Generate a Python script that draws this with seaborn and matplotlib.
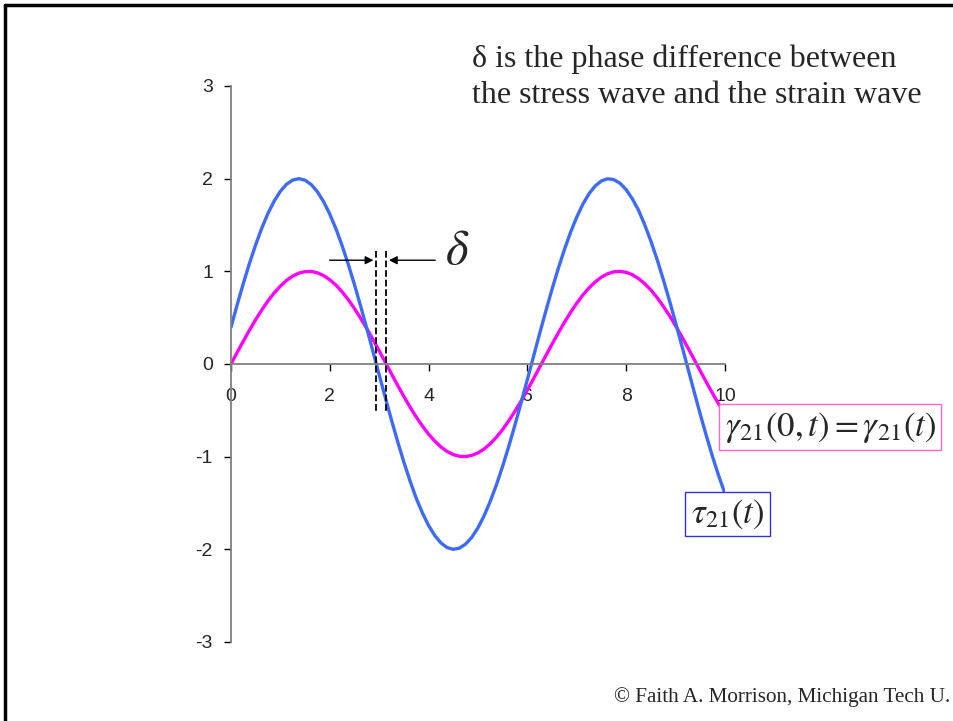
import matplotlib
matplotlib.use("Agg")
import matplotlib.pyplot as plt
from matplotlib.lines import Line2D
import seaborn as sns
import pandas as pd

# значения (шаг по t = 0.125)
t = [i * 0.125 for i in range(81)]
strain = [0.000, 0.125, 0.247, 0.366, 0.479, 0.585, 0.682, 0.768, 0.841, 0.902,
          0.949, 0.981, 0.997, 0.999, 0.984, 0.954, 0.909, 0.851, 0.778, 0.694,
          0.598, 0.493, 0.382, 0.264, 0.141, 0.017, -0.108, -0.231, -0.351, -0.465,
          -0.572, -0.670, -0.757, -0.832, -0.895, -0.944, -0.978, -0.996, -0.999, -0.986,
          -0.959, -0.917, -0.859, -0.789, -0.706, -0.612, -0.508, -0.397, -0.279, -0.158,
          -0.033, 0.092, 0.215, 0.335, 0.450, 0.558, 0.657, 0.746, 0.823, 0.887,
          0.938, 0.974, 0.995, 1.000, 0.989, 0.964, 0.921, 0.867, 0.798, 0.717,
          0.624, 0.523, 0.412, 0.295, 0.174, 0.050, -0.075, -0.199, -0.319, -0.435,
          -0.544]
stress = [0.397, 0.639, 0.870, 1.088, 1.288, 1.469, 1.627, 1.759, 1.864, 1.940,
          1.985, 2.000, 1.983, 1.936, 1.858, 1.751, 1.617, 1.458, 1.276, 1.074,
          0.855, 0.623, 0.381, 0.133, -0.117, -0.365, -0.607, -0.840, -1.060, -1.263,
          -1.449, -1.607, -1.743, -1.851, -1.931, -1.981, -2.000, -1.987, -1.943, -1.870,
          -1.767, -1.636, -1.479, -1.301, -1.101, -0.885, -0.655, -0.413, -0.166, 0.084,
          0.333, 0.575, 0.810, 1.031, 1.236, 1.423, 1.587, 1.727, 1.840, 1.923,
          1.976, 1.999, 1.989, 1.951, 1.881, 1.782, 1.659, 1.502, 1.326, 1.129,
          0.913, 0.685, 0.446, 0.199, -0.049, -0.299, -0.544, -0.779, -1.003, -1.211,
          -1.400]
x_ticks = [0, 2, 4, 6, 8, 10]
y_ticks = [-3, -2, -1, 0, 1, 2, 3]
delta_lines = [2.94, 3.14]
title_lines = ["\u03b4 is the phase difference between",
               "the stress wave and the strain wave"]

df = pd.DataFrame({"t": t, "strain": strain, "stress": stress})

sns.set_style("ticks")
plt.rcParams["font.family"] = ["Liberation Sans", "DejaVu Sans"]
plt.rcParams["mathtext.fontset"] = "stix"
plt.rcParams["axes.unicode_minus"] = False

fig = plt.figure(figsize=(9.54, 7.21), dpi=100)
ax = fig.add_axes([231 / 954, 1 - 642 / 721, 494 / 954, 556 / 721])

sns.lineplot(data=df, x="t", y="strain", ax=ax, color="#FF00FF", lw=2.4)
sns.lineplot(data=df, x="t", y="stress", ax=ax, color="#3D6BF5", lw=2.4)

ax.set_xlim(0, 10)
ax.set_ylim(-3, 3)
ax.set_xticks(x_ticks)
ax.set_yticks(y_ticks)
ax.set_xlabel("")
ax.set_ylabel("")
for s in ["top", "right"]:
    ax.spines[s].set_visible(False)
ax.spines["bottom"].set_position(("data", 0))
for s in ["left", "bottom"]:
    ax.spines[s].set_color("#808080")
    ax.spines[s].set_linewidth(1.3)
ax.tick_params(axis="both", direction="out", length=5, width=1, color="black",
               labelsize=14)
ax.tick_params(axis="x", pad=12)
ax.tick_params(axis="y", pad=8)

# дельта: пунктир и стрелки
for xd in delta_lines:
    ax.plot([xd, xd], [1.22, -0.52], ls="--", color="black", lw=1.3, clip_on=False)
ax.annotate("", xy=(delta_lines[0], 1.12), xytext=(1.94, 1.12),
            arrowprops=dict(arrowstyle="-|>", color="black", lw=1, mutation_scale=12))
ax.annotate("", xy=(delta_lines[1], 1.12), xytext=(4.19, 1.12),
            arrowprops=dict(arrowstyle="-|>", color="black", lw=1, mutation_scale=12))
ax.text(4.57, 1.215, r"$\delta$", fontsize=35, ha="center", va="center")

ax.text(12.13, -0.68, r"$\gamma_{21}(0,t) = \gamma_{21}(t)$", fontsize=25,
        ha="center", va="center", clip_on=False,
        bbox=dict(boxstyle="square,pad=0.16", fc="white", ec="#FF66CC", lw=1))
ax.text(10.05, -1.62, r"$\tau_{21}(t)$", fontsize=25,
        ha="center", va="center", clip_on=False,
        bbox=dict(boxstyle="square,pad=0.16", fc="white", ec="#3333DD", lw=1))

for line, y_px in zip(title_lines, [67, 103]):
    fig.text(472 / 954, 1 - y_px / 721, line, fontsize=23,
             family="Liberation Serif", ha="left", va="baseline")
fig.text(614 / 954, 1 - 702 / 721, "\u00a9 Faith A. Morrison, Michigan Tech U.",
         fontsize=15.2, family="Liberation Serif", ha="left", va="baseline")

# рамка слайда
fig.add_artist(Line2D([5 / 954, 1], [1 - 5 / 721, 1 - 5 / 721], color="black", lw=2.5,
                      transform=fig.transFigure))
fig.add_artist(Line2D([5 / 954, 5 / 954], [0, 1 - 5 / 721], color="black", lw=2.5,
                      transform=fig.transFigure))

fig.savefig("out.png", dpi=100)
